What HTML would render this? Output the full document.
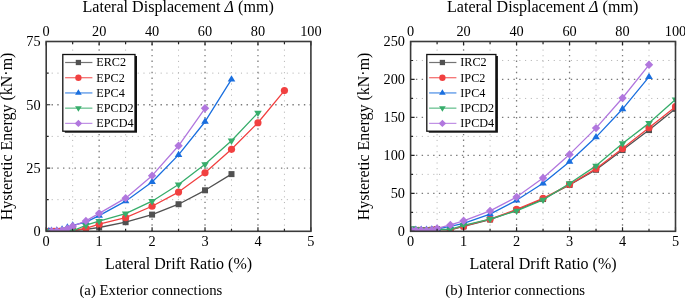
<!DOCTYPE html>
<html><head><meta charset="utf-8"><style>
html,body{margin:0;padding:0;background:#fff;}
body{width:685px;height:298px;overflow:hidden;}
svg{display:block;will-change:transform;}
text{font-family:"Liberation Serif", serif;}
</style></head><body><svg width="685" height="298" viewBox="0 0 685 298" font-family='"Liberation Serif", serif' fill="#000"><clipPath id="clip0"><rect x="46.2" y="41.5" width="264.7" height="189.8"/></clipPath><path d="M46.20,199.67H310.90M46.20,136.40H310.90M46.20,73.13H310.90" stroke="#b4b4b4" stroke-width="1.0" stroke-dasharray="1.1 4.635" stroke-dashoffset="0.25" fill="none"/><path d="M72.67,231.30V41.50M125.61,231.30V41.50M178.55,231.30V41.50M231.49,231.30V41.50M284.43,231.30V41.50" stroke="#b4b4b4" stroke-width="1.0" stroke-dasharray="1.1 4.545" stroke-dashoffset="0.0" fill="none"/><path d="M46.20,168.03H310.90M46.20,104.77H310.90" stroke="#7a7a7a" stroke-width="1.3" stroke-dasharray="1.4 4.335" stroke-dashoffset="0.4" fill="none"/><path d="M99.14,231.30V41.50M152.08,231.30V41.50M205.02,231.30V41.50M257.96,231.30V41.50" stroke="#7a7a7a" stroke-width="1.3" stroke-dasharray="1.4 4.245" stroke-dashoffset="0.0" fill="none"/><g clip-path="url(#clip0)"><polyline points="47.79,231.30 51.49,231.17 56.79,231.05 62.08,230.92 67.38,230.79 72.67,230.54 85.91,229.28 99.14,227.50 125.61,222.19 152.08,214.60 178.55,204.22 205.02,190.30 231.49,174.11" fill="none" stroke="#515151" stroke-width="1.3" stroke-linejoin="round"/><rect x="44.79" y="228.30" width="6.00" height="6.00" fill="#515151"/><rect x="48.49" y="228.17" width="6.00" height="6.00" fill="#515151"/><rect x="53.79" y="228.05" width="6.00" height="6.00" fill="#515151"/><rect x="59.08" y="227.92" width="6.00" height="6.00" fill="#515151"/><rect x="64.38" y="227.79" width="6.00" height="6.00" fill="#515151"/><rect x="69.67" y="227.54" width="6.00" height="6.00" fill="#515151"/><rect x="82.91" y="226.28" width="6.00" height="6.00" fill="#515151"/><rect x="96.14" y="224.50" width="6.00" height="6.00" fill="#515151"/><rect x="122.61" y="219.19" width="6.00" height="6.00" fill="#515151"/><rect x="149.08" y="211.60" width="6.00" height="6.00" fill="#515151"/><rect x="175.55" y="201.22" width="6.00" height="6.00" fill="#515151"/><rect x="202.02" y="187.30" width="6.00" height="6.00" fill="#515151"/><rect x="228.49" y="171.11" width="6.00" height="6.00" fill="#515151"/><polyline points="48.85,231.30 54.14,231.30 59.44,231.30 64.73,231.05 72.67,230.54 85.91,228.26 99.14,224.21 125.61,217.63 152.08,206.25 178.55,192.07 205.02,172.84 231.49,149.31 257.96,122.73 284.43,90.59" fill="none" stroke="#F14040" stroke-width="1.3" stroke-linejoin="round"/><circle cx="48.85" cy="231.30" r="3.60" fill="#F14040"/><circle cx="54.14" cy="231.30" r="3.60" fill="#F14040"/><circle cx="59.44" cy="231.30" r="3.60" fill="#F14040"/><circle cx="64.73" cy="231.05" r="3.60" fill="#F14040"/><circle cx="72.67" cy="230.54" r="3.60" fill="#F14040"/><circle cx="85.91" cy="228.26" r="3.60" fill="#F14040"/><circle cx="99.14" cy="224.21" r="3.60" fill="#F14040"/><circle cx="125.61" cy="217.63" r="3.60" fill="#F14040"/><circle cx="152.08" cy="206.25" r="3.60" fill="#F14040"/><circle cx="178.55" cy="192.07" r="3.60" fill="#F14040"/><circle cx="205.02" cy="172.84" r="3.60" fill="#F14040"/><circle cx="231.49" cy="149.31" r="3.60" fill="#F14040"/><circle cx="257.96" cy="122.73" r="3.60" fill="#F14040"/><circle cx="284.43" cy="90.59" r="3.60" fill="#F14040"/><polyline points="48.85,231.30 51.49,230.67 56.79,230.54 62.08,229.53 67.38,227.50 72.67,225.48 85.91,222.19 99.14,215.61 125.61,201.19 152.08,181.95 178.55,154.87 205.02,121.72 231.49,79.46" fill="none" stroke="#1A6FDF" stroke-width="1.3" stroke-linejoin="round"/><path d="M48.85,227.10L52.65,233.40L45.05,233.40Z" fill="#1A6FDF"/><path d="M51.49,226.47L55.29,232.77L47.69,232.77Z" fill="#1A6FDF"/><path d="M56.79,226.34L60.59,232.64L52.99,232.64Z" fill="#1A6FDF"/><path d="M62.08,225.33L65.88,231.63L58.28,231.63Z" fill="#1A6FDF"/><path d="M67.38,223.30L71.18,229.60L63.58,229.60Z" fill="#1A6FDF"/><path d="M72.67,221.28L76.47,227.58L68.87,227.58Z" fill="#1A6FDF"/><path d="M85.91,217.99L89.70,224.29L82.11,224.29Z" fill="#1A6FDF"/><path d="M99.14,211.41L102.94,217.71L95.34,217.71Z" fill="#1A6FDF"/><path d="M125.61,196.99L129.41,203.29L121.81,203.29Z" fill="#1A6FDF"/><path d="M152.08,177.75L155.88,184.05L148.28,184.05Z" fill="#1A6FDF"/><path d="M178.55,150.67L182.35,156.97L174.75,156.97Z" fill="#1A6FDF"/><path d="M205.02,117.52L208.82,123.82L201.22,123.82Z" fill="#1A6FDF"/><path d="M231.49,75.26L235.29,81.56L227.69,81.56Z" fill="#1A6FDF"/><polyline points="47.79,231.30 51.49,231.17 56.79,231.05 62.08,231.05 67.38,230.92 72.67,230.79 85.91,225.23 99.14,221.18 125.61,213.59 152.08,201.19 178.55,184.48 205.02,164.24 231.49,140.70 257.96,112.86" fill="none" stroke="#37AD6B" stroke-width="1.3" stroke-linejoin="round"/><path d="M47.79,235.50L51.59,229.20L43.99,229.20Z" fill="#37AD6B"/><path d="M51.49,235.37L55.29,229.07L47.69,229.07Z" fill="#37AD6B"/><path d="M56.79,235.25L60.59,228.95L52.99,228.95Z" fill="#37AD6B"/><path d="M62.08,235.25L65.88,228.95L58.28,228.95Z" fill="#37AD6B"/><path d="M67.38,235.12L71.18,228.82L63.58,228.82Z" fill="#37AD6B"/><path d="M72.67,234.99L76.47,228.69L68.87,228.69Z" fill="#37AD6B"/><path d="M85.91,229.43L89.70,223.13L82.11,223.13Z" fill="#37AD6B"/><path d="M99.14,225.38L102.94,219.08L95.34,219.08Z" fill="#37AD6B"/><path d="M125.61,217.79L129.41,211.49L121.81,211.49Z" fill="#37AD6B"/><path d="M152.08,205.39L155.88,199.09L148.28,199.09Z" fill="#37AD6B"/><path d="M178.55,188.68L182.35,182.38L174.75,182.38Z" fill="#37AD6B"/><path d="M205.02,168.44L208.82,162.14L201.22,162.14Z" fill="#37AD6B"/><path d="M231.49,144.90L235.29,138.60L227.69,138.60Z" fill="#37AD6B"/><path d="M257.96,117.06L261.76,110.76L254.16,110.76Z" fill="#37AD6B"/><polyline points="51.49,231.30 56.79,231.05 62.08,230.54 67.38,228.77 72.67,226.24 85.91,220.92 99.14,213.33 125.61,198.15 152.08,175.63 178.55,145.76 205.02,108.31" fill="none" stroke="#B177DE" stroke-width="1.3" stroke-linejoin="round"/><path d="M51.49,227.10L55.69,231.30L51.49,235.50L47.29,231.30Z" fill="#B177DE"/><path d="M56.79,226.85L60.99,231.05L56.79,235.25L52.59,231.05Z" fill="#B177DE"/><path d="M62.08,226.34L66.28,230.54L62.08,234.74L57.88,230.54Z" fill="#B177DE"/><path d="M67.38,224.57L71.58,228.77L67.38,232.97L63.18,228.77Z" fill="#B177DE"/><path d="M72.67,222.04L76.87,226.24L72.67,230.44L68.47,226.24Z" fill="#B177DE"/><path d="M85.91,216.72L90.11,220.92L85.91,225.12L81.70,220.92Z" fill="#B177DE"/><path d="M99.14,209.13L103.34,213.33L99.14,217.53L94.94,213.33Z" fill="#B177DE"/><path d="M125.61,193.95L129.81,198.15L125.61,202.35L121.41,198.15Z" fill="#B177DE"/><path d="M152.08,171.43L156.28,175.63L152.08,179.83L147.88,175.63Z" fill="#B177DE"/><path d="M178.55,141.56L182.75,145.76L178.55,149.96L174.35,145.76Z" fill="#B177DE"/><path d="M205.02,104.11L209.22,108.31L205.02,112.51L200.82,108.31Z" fill="#B177DE"/></g><path d="M46.20,231.30v-4M46.20,41.50v4M72.67,231.30v-2.5M72.67,41.50v2.5M99.14,231.30v-4M99.14,41.50v4M125.61,231.30v-2.5M125.61,41.50v2.5M152.08,231.30v-4M152.08,41.50v4M178.55,231.30v-2.5M178.55,41.50v2.5M205.02,231.30v-4M205.02,41.50v4M231.49,231.30v-2.5M231.49,41.50v2.5M257.96,231.30v-4M257.96,41.50v4M284.43,231.30v-2.5M284.43,41.50v2.5M310.90,231.30v-4M310.90,41.50v4M46.20,231.30h4M46.20,199.67h2.5M46.20,168.03h4M46.20,136.40h2.5M46.20,104.77h4M46.20,73.13h2.5M46.20,41.50h4" stroke="#222" stroke-width="1.2" fill="none"/><rect x="46.20" y="41.50" width="264.70" height="189.80" fill="none" stroke="#3a3a3a" stroke-width="1.6"/><g font-size="14.3"><text x="46.20" y="245.7" text-anchor="middle">0</text><text x="99.14" y="245.7" text-anchor="middle">1</text><text x="152.08" y="245.7" text-anchor="middle">2</text><text x="205.02" y="245.7" text-anchor="middle">3</text><text x="257.96" y="245.7" text-anchor="middle">4</text><text x="310.90" y="245.7" text-anchor="middle">5</text><text x="46.20" y="36.2" text-anchor="middle">0</text><text x="99.14" y="36.2" text-anchor="middle">20</text><text x="152.08" y="36.2" text-anchor="middle">40</text><text x="205.02" y="36.2" text-anchor="middle">60</text><text x="257.96" y="36.2" text-anchor="middle">80</text><text x="310.90" y="36.2" text-anchor="middle">100</text><text x="40.60" y="236.20" text-anchor="end">0</text><text x="40.60" y="172.93" text-anchor="end">25</text><text x="40.60" y="109.67" text-anchor="end">50</text><text x="40.60" y="46.40" text-anchor="end">75</text></g><text x="178.15" y="12.2" font-size="16.1" text-anchor="middle">Lateral Displacement <tspan font-style="italic">&#916;</tspan> (mm)</text><text x="178.55" y="268.5" font-size="16" text-anchor="middle">Lateral Drift Ratio (%)</text><text transform="translate(11.60,136.40) rotate(-90)" font-size="16" text-anchor="middle">Hysteretic Energy (kN&#183;m)</text><text x="150.90" y="295.3" font-size="14.8" text-anchor="middle">(a) Exterior connections</text><rect x="64.80" y="56.00" width="72.20" height="76.70" fill="#111"/><rect x="62.80" y="54.50" width="72.20" height="76.70" fill="#fff" stroke="#111" stroke-width="1.3"/><line x1="65.10" x2="92.40" y1="62.50" y2="62.50" stroke="#515151" stroke-width="1.2" stroke-opacity="0.8"/><rect x="75.76" y="59.86" width="5.28" height="5.28" fill="#515151"/><text x="96.30" y="66.40" font-size="12.2">ERC2</text><line x1="65.10" x2="92.40" y1="77.72" y2="77.72" stroke="#F14040" stroke-width="1.2" stroke-opacity="0.8"/><circle cx="78.40" cy="77.72" r="3.17" fill="#F14040"/><text x="96.30" y="81.62" font-size="12.2">EPC2</text><line x1="65.10" x2="92.40" y1="92.94" y2="92.94" stroke="#1A6FDF" stroke-width="1.2" stroke-opacity="0.8"/><path d="M78.40,89.24L81.74,94.79L75.06,94.79Z" fill="#1A6FDF"/><text x="96.30" y="96.84" font-size="12.2">EPC4</text><line x1="65.10" x2="92.40" y1="108.16" y2="108.16" stroke="#37AD6B" stroke-width="1.2" stroke-opacity="0.8"/><path d="M78.40,111.86L81.74,106.31L75.06,106.31Z" fill="#37AD6B"/><text x="96.30" y="112.06" font-size="12.2">EPCD2</text><line x1="65.10" x2="92.40" y1="123.38" y2="123.38" stroke="#B177DE" stroke-width="1.2" stroke-opacity="0.8"/><path d="M78.40,119.68L82.10,123.38L78.40,127.08L74.70,123.38Z" fill="#B177DE"/><text x="96.30" y="127.28" font-size="12.2">EPCD4</text><clipPath id="clip1"><rect x="410.6" y="41.5" width="264.9" height="189.8"/></clipPath><path d="M410.60,212.32H675.50M410.60,174.36H675.50M410.60,136.40H675.50M410.60,98.44H675.50M410.60,60.48H675.50" stroke="#b4b4b4" stroke-width="1.0" stroke-dasharray="1.1 4.635" stroke-dashoffset="0.25" fill="none"/><path d="M437.09,231.30V41.50M490.07,231.30V41.50M543.05,231.30V41.50M596.03,231.30V41.50M649.01,231.30V41.50" stroke="#b4b4b4" stroke-width="1.0" stroke-dasharray="1.1 4.545" stroke-dashoffset="0.0" fill="none"/><path d="M410.60,193.34H675.50M410.60,155.38H675.50M410.60,117.42H675.50M410.60,79.46H675.50" stroke="#7a7a7a" stroke-width="1.3" stroke-dasharray="1.4 4.335" stroke-dashoffset="0.4" fill="none"/><path d="M463.58,231.30V41.50M516.56,231.30V41.50M569.54,231.30V41.50M622.52,231.30V41.50" stroke="#7a7a7a" stroke-width="1.3" stroke-dasharray="1.4 4.245" stroke-dashoffset="0.0" fill="none"/><g clip-path="url(#clip1)"><polyline points="413.25,230.92 415.90,230.54 421.20,230.54 426.49,230.39 431.79,229.78 437.09,229.17 450.34,229.78 463.58,226.37 490.07,219.53 516.56,210.04 543.05,199.03 569.54,184.99 596.03,169.80 622.52,150.07 649.01,130.10 675.50,108.84" fill="none" stroke="#515151" stroke-width="1.3" stroke-linejoin="round"/><rect x="410.25" y="227.92" width="6.00" height="6.00" fill="#515151"/><rect x="412.90" y="227.54" width="6.00" height="6.00" fill="#515151"/><rect x="418.20" y="227.54" width="6.00" height="6.00" fill="#515151"/><rect x="423.49" y="227.39" width="6.00" height="6.00" fill="#515151"/><rect x="428.79" y="226.78" width="6.00" height="6.00" fill="#515151"/><rect x="434.09" y="226.17" width="6.00" height="6.00" fill="#515151"/><rect x="447.34" y="226.78" width="6.00" height="6.00" fill="#515151"/><rect x="460.58" y="223.37" width="6.00" height="6.00" fill="#515151"/><rect x="487.07" y="216.53" width="6.00" height="6.00" fill="#515151"/><rect x="513.56" y="207.04" width="6.00" height="6.00" fill="#515151"/><rect x="540.05" y="196.03" width="6.00" height="6.00" fill="#515151"/><rect x="566.54" y="181.99" width="6.00" height="6.00" fill="#515151"/><rect x="593.03" y="166.80" width="6.00" height="6.00" fill="#515151"/><rect x="619.52" y="147.07" width="6.00" height="6.00" fill="#515151"/><rect x="646.01" y="127.10" width="6.00" height="6.00" fill="#515151"/><rect x="672.50" y="105.84" width="6.00" height="6.00" fill="#515151"/><polyline points="413.25,230.16 418.55,230.39 423.85,230.54 429.14,230.54 434.44,230.16 437.09,229.78 450.34,229.63 463.58,226.21 490.07,219.15 516.56,209.44 543.05,198.43 569.54,184.61 596.03,168.67 622.52,148.55 649.01,127.67 675.50,106.64" fill="none" stroke="#F14040" stroke-width="1.3" stroke-linejoin="round"/><circle cx="413.25" cy="230.16" r="3.60" fill="#F14040"/><circle cx="418.55" cy="230.39" r="3.60" fill="#F14040"/><circle cx="423.85" cy="230.54" r="3.60" fill="#F14040"/><circle cx="429.14" cy="230.54" r="3.60" fill="#F14040"/><circle cx="434.44" cy="230.16" r="3.60" fill="#F14040"/><circle cx="437.09" cy="229.78" r="3.60" fill="#F14040"/><circle cx="450.34" cy="229.63" r="3.60" fill="#F14040"/><circle cx="463.58" cy="226.21" r="3.60" fill="#F14040"/><circle cx="490.07" cy="219.15" r="3.60" fill="#F14040"/><circle cx="516.56" cy="209.44" r="3.60" fill="#F14040"/><circle cx="543.05" cy="198.43" r="3.60" fill="#F14040"/><circle cx="569.54" cy="184.61" r="3.60" fill="#F14040"/><circle cx="596.03" cy="168.67" r="3.60" fill="#F14040"/><circle cx="622.52" cy="148.55" r="3.60" fill="#F14040"/><circle cx="649.01" cy="127.67" r="3.60" fill="#F14040"/><circle cx="675.50" cy="106.64" r="3.60" fill="#F14040"/><polyline points="413.25,230.54 415.90,229.78 421.20,229.78 426.49,229.78 431.79,229.40 437.09,228.87 450.34,226.37 463.58,223.33 490.07,214.14 516.56,200.32 543.05,183.32 569.54,161.76 596.03,137.08 622.52,109.07 649.01,76.95" fill="none" stroke="#1A6FDF" stroke-width="1.3" stroke-linejoin="round"/><path d="M413.25,226.34L417.05,232.64L409.45,232.64Z" fill="#1A6FDF"/><path d="M415.90,225.58L419.70,231.88L412.10,231.88Z" fill="#1A6FDF"/><path d="M421.20,225.58L425.00,231.88L417.40,231.88Z" fill="#1A6FDF"/><path d="M426.49,225.58L430.29,231.88L422.69,231.88Z" fill="#1A6FDF"/><path d="M431.79,225.20L435.59,231.50L427.99,231.50Z" fill="#1A6FDF"/><path d="M437.09,224.67L440.89,230.97L433.29,230.97Z" fill="#1A6FDF"/><path d="M450.34,222.17L454.14,228.47L446.54,228.47Z" fill="#1A6FDF"/><path d="M463.58,219.13L467.38,225.43L459.78,225.43Z" fill="#1A6FDF"/><path d="M490.07,209.94L493.87,216.24L486.27,216.24Z" fill="#1A6FDF"/><path d="M516.56,196.12L520.36,202.42L512.76,202.42Z" fill="#1A6FDF"/><path d="M543.05,179.12L546.85,185.42L539.25,185.42Z" fill="#1A6FDF"/><path d="M569.54,157.56L573.34,163.86L565.74,163.86Z" fill="#1A6FDF"/><path d="M596.03,132.88L599.83,139.18L592.23,139.18Z" fill="#1A6FDF"/><path d="M622.52,104.87L626.32,111.17L618.72,111.17Z" fill="#1A6FDF"/><path d="M649.01,72.75L652.81,79.05L645.21,79.05Z" fill="#1A6FDF"/><polyline points="412.19,228.42 415.90,229.33 421.20,229.63 426.49,229.78 431.79,229.78 437.09,229.40 450.34,229.48 463.58,225.38 490.07,219.15 516.56,210.80 543.05,199.87 569.54,183.47 596.03,165.86 622.52,143.46 649.01,123.11 675.50,99.58" fill="none" stroke="#37AD6B" stroke-width="1.3" stroke-linejoin="round"/><path d="M412.19,232.62L415.99,226.32L408.39,226.32Z" fill="#37AD6B"/><path d="M415.90,233.53L419.70,227.23L412.10,227.23Z" fill="#37AD6B"/><path d="M421.20,233.83L425.00,227.53L417.40,227.53Z" fill="#37AD6B"/><path d="M426.49,233.98L430.29,227.68L422.69,227.68Z" fill="#37AD6B"/><path d="M431.79,233.98L435.59,227.68L427.99,227.68Z" fill="#37AD6B"/><path d="M437.09,233.60L440.89,227.30L433.29,227.30Z" fill="#37AD6B"/><path d="M450.34,233.68L454.14,227.38L446.54,227.38Z" fill="#37AD6B"/><path d="M463.58,229.58L467.38,223.28L459.78,223.28Z" fill="#37AD6B"/><path d="M490.07,223.35L493.87,217.05L486.27,217.05Z" fill="#37AD6B"/><path d="M516.56,215.00L520.36,208.70L512.76,208.70Z" fill="#37AD6B"/><path d="M543.05,204.07L546.85,197.77L539.25,197.77Z" fill="#37AD6B"/><path d="M569.54,187.67L573.34,181.37L565.74,181.37Z" fill="#37AD6B"/><path d="M596.03,170.06L599.83,163.76L592.23,163.76Z" fill="#37AD6B"/><path d="M622.52,147.66L626.32,141.36L618.72,141.36Z" fill="#37AD6B"/><path d="M649.01,127.31L652.81,121.01L645.21,121.01Z" fill="#37AD6B"/><path d="M675.50,103.78L679.30,97.48L671.70,97.48Z" fill="#37AD6B"/><polyline points="412.19,230.92 415.90,230.39 421.20,230.16 426.49,230.39 431.79,229.93 437.09,228.42 450.34,224.92 463.58,220.82 490.07,210.88 516.56,197.06 543.05,177.93 569.54,154.39 596.03,128.12 622.52,97.98 649.01,64.81" fill="none" stroke="#B177DE" stroke-width="1.3" stroke-linejoin="round"/><path d="M412.19,226.72L416.39,230.92L412.19,235.12L407.99,230.92Z" fill="#B177DE"/><path d="M415.90,226.19L420.10,230.39L415.90,234.59L411.70,230.39Z" fill="#B177DE"/><path d="M421.20,225.96L425.40,230.16L421.20,234.36L417.00,230.16Z" fill="#B177DE"/><path d="M426.49,226.19L430.69,230.39L426.49,234.59L422.29,230.39Z" fill="#B177DE"/><path d="M431.79,225.73L435.99,229.93L431.79,234.13L427.59,229.93Z" fill="#B177DE"/><path d="M437.09,224.22L441.29,228.42L437.09,232.62L432.89,228.42Z" fill="#B177DE"/><path d="M450.34,220.72L454.54,224.92L450.34,229.12L446.14,224.92Z" fill="#B177DE"/><path d="M463.58,216.62L467.78,220.82L463.58,225.02L459.38,220.82Z" fill="#B177DE"/><path d="M490.07,206.68L494.27,210.88L490.07,215.08L485.87,210.88Z" fill="#B177DE"/><path d="M516.56,192.86L520.76,197.06L516.56,201.26L512.36,197.06Z" fill="#B177DE"/><path d="M543.05,173.73L547.25,177.93L543.05,182.13L538.85,177.93Z" fill="#B177DE"/><path d="M569.54,150.19L573.74,154.39L569.54,158.59L565.34,154.39Z" fill="#B177DE"/><path d="M596.03,123.92L600.23,128.12L596.03,132.32L591.83,128.12Z" fill="#B177DE"/><path d="M622.52,93.78L626.72,97.98L622.52,102.18L618.32,97.98Z" fill="#B177DE"/><path d="M649.01,60.61L653.21,64.81L649.01,69.01L644.81,64.81Z" fill="#B177DE"/></g><path d="M410.60,231.30v-4M410.60,41.50v4M437.09,231.30v-2.5M437.09,41.50v2.5M463.58,231.30v-4M463.58,41.50v4M490.07,231.30v-2.5M490.07,41.50v2.5M516.56,231.30v-4M516.56,41.50v4M543.05,231.30v-2.5M543.05,41.50v2.5M569.54,231.30v-4M569.54,41.50v4M596.03,231.30v-2.5M596.03,41.50v2.5M622.52,231.30v-4M622.52,41.50v4M649.01,231.30v-2.5M649.01,41.50v2.5M675.50,231.30v-4M675.50,41.50v4M410.60,231.30h4M410.60,212.32h2.5M410.60,193.34h4M410.60,174.36h2.5M410.60,155.38h4M410.60,136.40h2.5M410.60,117.42h4M410.60,98.44h2.5M410.60,79.46h4M410.60,60.48h2.5M410.60,41.50h4" stroke="#222" stroke-width="1.2" fill="none"/><rect x="410.60" y="41.50" width="264.90" height="189.80" fill="none" stroke="#3a3a3a" stroke-width="1.6"/><g font-size="14.3"><text x="410.60" y="245.7" text-anchor="middle">0</text><text x="463.58" y="245.7" text-anchor="middle">1</text><text x="516.56" y="245.7" text-anchor="middle">2</text><text x="569.54" y="245.7" text-anchor="middle">3</text><text x="622.52" y="245.7" text-anchor="middle">4</text><text x="675.50" y="245.7" text-anchor="middle">5</text><text x="410.60" y="36.2" text-anchor="middle">0</text><text x="463.58" y="36.2" text-anchor="middle">20</text><text x="516.56" y="36.2" text-anchor="middle">40</text><text x="569.54" y="36.2" text-anchor="middle">60</text><text x="622.52" y="36.2" text-anchor="middle">80</text><text x="675.50" y="36.2" text-anchor="middle">100</text><text x="405.00" y="236.20" text-anchor="end">0</text><text x="405.00" y="198.24" text-anchor="end">50</text><text x="405.00" y="160.28" text-anchor="end">100</text><text x="405.00" y="122.32" text-anchor="end">150</text><text x="405.00" y="84.36" text-anchor="end">200</text><text x="405.00" y="46.40" text-anchor="end">250</text></g><text x="542.65" y="12.2" font-size="16.1" text-anchor="middle">Lateral Displacement <tspan font-style="italic">&#916;</tspan> (mm)</text><text x="543.05" y="268.5" font-size="16" text-anchor="middle">Lateral Drift Ratio (%)</text><text transform="translate(368.60,136.40) rotate(-90)" font-size="16" text-anchor="middle">Hysteretic Energy (kN&#183;m)</text><text x="515.20" y="295.3" font-size="14.8" text-anchor="middle">(b) Interior connections</text><rect x="428.80" y="56.00" width="69.10" height="76.70" fill="#111"/><rect x="426.80" y="54.50" width="69.10" height="76.70" fill="#fff" stroke="#111" stroke-width="1.3"/><line x1="429.10" x2="456.40" y1="62.50" y2="62.50" stroke="#515151" stroke-width="1.2" stroke-opacity="0.8"/><rect x="439.76" y="59.86" width="5.28" height="5.28" fill="#515151"/><text x="460.30" y="66.40" font-size="12.2">IRC2</text><line x1="429.10" x2="456.40" y1="77.72" y2="77.72" stroke="#F14040" stroke-width="1.2" stroke-opacity="0.8"/><circle cx="442.40" cy="77.72" r="3.17" fill="#F14040"/><text x="460.30" y="81.62" font-size="12.2">IPC2</text><line x1="429.10" x2="456.40" y1="92.94" y2="92.94" stroke="#1A6FDF" stroke-width="1.2" stroke-opacity="0.8"/><path d="M442.40,89.24L445.74,94.79L439.06,94.79Z" fill="#1A6FDF"/><text x="460.30" y="96.84" font-size="12.2">IPC4</text><line x1="429.10" x2="456.40" y1="108.16" y2="108.16" stroke="#37AD6B" stroke-width="1.2" stroke-opacity="0.8"/><path d="M442.40,111.86L445.74,106.31L439.06,106.31Z" fill="#37AD6B"/><text x="460.30" y="112.06" font-size="12.2">IPCD2</text><line x1="429.10" x2="456.40" y1="123.38" y2="123.38" stroke="#B177DE" stroke-width="1.2" stroke-opacity="0.8"/><path d="M442.40,119.68L446.10,123.38L442.40,127.08L438.70,123.38Z" fill="#B177DE"/><text x="460.30" y="127.28" font-size="12.2">IPCD4</text></svg></body></html>
